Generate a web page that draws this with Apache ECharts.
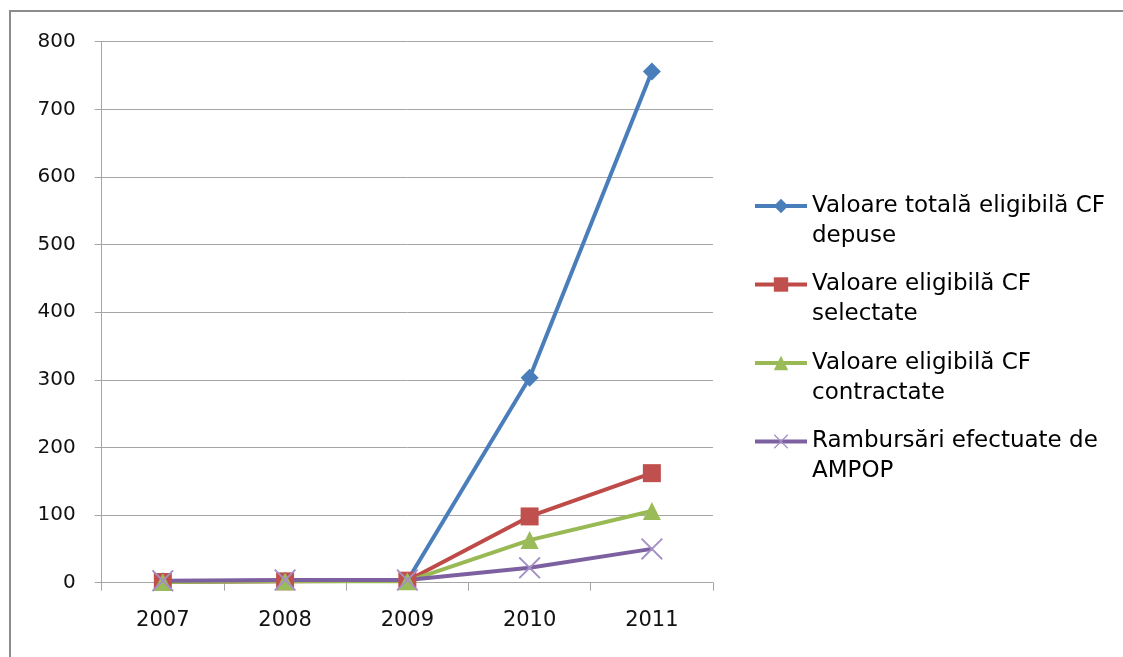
<!DOCTYPE html>
<html>
<head>
<meta charset="utf-8">
<script src="https://cdn.jsdelivr.net/npm/echarts@6/dist/echarts.min.js"></script>
<style>
html,body{margin:0;padding:0;background:#fff;}
#chart{width:1123px;height:657px;}
</style>
</head>
<body>
<div id="chart"></div>
<script>
const years = ['2007', '2008', '2009', '2010', '2011'];
const depuse = [2, 3, 3, 303, 756];
const selectate = [1, 2, 3, 98, 162];
const contractate = [1, 2, 2, 63, 106];
const rambursari = [3, 4, 4, 22, 50];
const seriesNames = [
  'Valoare totală eligibilă CF\ndepuse',
  'Valoare eligibilă CF\nselectate',
  'Valoare eligibilă CF\ncontractate',
  'Rambursări efectuate de\nAMPOP'
];
const yTicks = [0, 100, 200, 300, 400, 500, 600, 700, 800];

const chart = echarts.init(document.getElementById('chart'), null, {renderer: 'canvas'});
const gridColor = '#A5A5A5';
const font = 'DejaVu Sans';
const xSymbol = 'path://M0,0.6L0.6,0L10,9.4L9.4,10Z M9.4,0L10,0.6L0.6,10L0,9.4Z';

chart.setOption({
  backgroundColor: '#ffffff',
  animation: false,
  graphic: [{
    type: 'rect',
    shape: {x: 10, y: 11, width: 1200, height: 700},
    style: {fill: 'none', stroke: '#8C8C8C', lineWidth: 2},
    silent: true
  }],
  grid: {left: 101.7, right: 410, top: 41.7, bottom: 74.3, containLabel: false},
  xAxis: {
    type: 'category',
    data: years,
    boundaryGap: true,
    axisLine: {show: true, lineStyle: {color: gridColor, width: 1}},
    axisTick: {show: true, length: 8, alignWithLabel: false, lineStyle: {color: gridColor}},
    axisLabel: {color: '#111', fontFamily: font, fontSize: 21, margin: 27}
  },
  yAxis: {
    type: 'value',
    min: yTicks[0],
    max: yTicks[yTicks.length - 1],
    interval: 100,
    axisLine: {show: true, lineStyle: {color: gridColor, width: 1}},
    axisTick: {show: true, length: 7, lineStyle: {color: gridColor}},
    splitLine: {show: true, lineStyle: {color: gridColor, width: 1}},
    axisLabel: {color: '#111', fontFamily: font, fontSize: 20, margin: 26}
  },
  legend: {
    orient: 'vertical',
    left: 753,
    top: 161,
    padding: 0,
    itemGap: -11.5,
    itemWidth: 52,
    itemHeight: 18,
    lineStyle: {width: 4},
    formatter: function (name) { return '\n' + name; },
    textStyle: {color: '#000', fontFamily: font, fontSize: 23, lineHeight: 30},
    data: seriesNames
  },
  series: [
    {
      name: seriesNames[0], type: 'line', data: depuse,
      symbol: 'diamond', symbolSize: 18,
      lineStyle: {color: '#4A7EBB', width: 4},
      itemStyle: {color: '#4A7EBB'}
    },
    {
      name: seriesNames[1], type: 'line', data: selectate,
      symbol: 'rect', symbolSize: 18,
      lineStyle: {color: '#BE4B48', width: 4},
      itemStyle: {color: '#C0504D'}
    },
    {
      name: seriesNames[2], type: 'line', data: contractate,
      symbol: 'triangle', symbolSize: 18,
      lineStyle: {color: '#98B954', width: 4},
      itemStyle: {color: '#9BBB59'}
    },
    {
      name: seriesNames[3], type: 'line', data: rambursari,
      symbol: xSymbol, symbolSize: 22,
      lineStyle: {color: '#7D60A0', width: 4},
      itemStyle: {color: '#A48FC6'}
    }
  ]
});
</script>
</body>
</html>
